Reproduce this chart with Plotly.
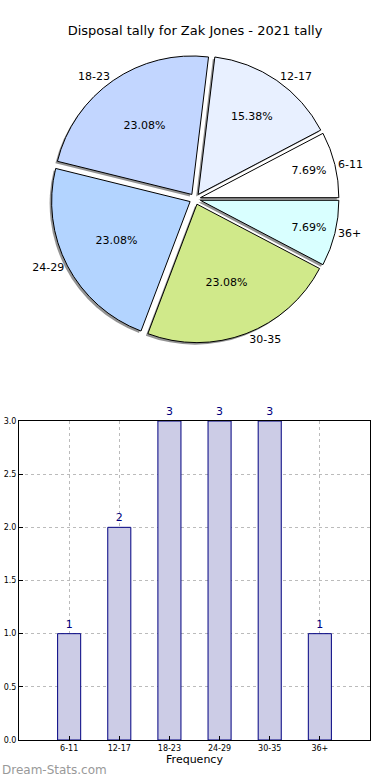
import plotly.graph_objects as go

categories = ["6-11", "12-17", "18-23", "24-29", "30-35", "36+"]
counts = [1, 2, 3, 3, 3, 1]
pie_colors = ["#FFFFFF", "#E8F0FF", "#C2D6FF", "#B3D4FF", "#D0E98A", "#D9FFFF"]
title_text = "Disposal tally for Zak Jones - 2021 tally"
y_ticks = [0.0, 0.5, 1.0, 1.5, 2.0, 2.5, 3.0]

W, H = 390, 780
pull = [0.04] * len(categories)
# first slice starts at 3 o'clock and runs counterclockwise
rot = 90 - 360 * counts[0] / sum(counts)

def dom(cx, cy, half):
    return dict(x=[(cx - half) / W, (cx + half) / W], y=[1 - (cy + half) / H, 1 - (cy - half) / H])

PCX, PCY, PH = 195, 199, 144

fig = go.Figure()

# shadow
fig.add_trace(go.Pie(
    labels=categories, values=counts, sort=False, direction="counterclockwise", rotation=rot,
    pull=pull, domain=dom(PCX - 2, PCY + 2, PH),
    marker=dict(colors=["#888888"] * 6, line=dict(color="#888888", width=0)),
    textinfo="none", hoverinfo="skip", showlegend=False, opacity=0.9,
))
# main pie
fig.add_trace(go.Pie(
    labels=categories, values=counts, sort=False, direction="counterclockwise", rotation=rot,
    pull=pull, domain=dom(PCX, PCY, PH),
    marker=dict(colors=pie_colors, line=dict(color="#000000", width=1)),
    texttemplate="%{percent:.2%}", textposition="inside", insidetextorientation="horizontal",
    textfont=dict(family="DejaVu Sans", size=11, color="#000000"),
    showlegend=False,
))
# outside labels
fig.add_trace(go.Pie(
    labels=categories, values=counts, sort=False, direction="counterclockwise", rotation=rot,
    pull=pull, domain=dom(PCX, PCY, PH),
    marker=dict(colors=["rgba(0,0,0,0)"] * 6, line=dict(width=0)),
    texttemplate="%{label}", textposition="outside",
    textfont=dict(family="DejaVu Sans", size=11, color="#000000"),
    showlegend=False, hoverinfo="skip",
))

fig.add_trace(go.Bar(
    x=categories, y=counts, width=0.46,
    marker=dict(color="#CCCCE6", line=dict(color="#000080", width=1)),
    text=[str(c) for c in counts], textposition="outside", cliponaxis=False,
    textfont=dict(family="DejaVu Sans", size=11, color="#000080"),
    xaxis="x", yaxis="y", showlegend=False,
))

fig.update_layout(
    width=W, height=H, margin=dict(l=0, r=0, t=0, b=0),
    paper_bgcolor="white", plot_bgcolor="white",
    font=dict(family="DejaVu Sans", color="#000000"),
    title=dict(text=title_text, x=0.5, xanchor="center", y=1 - 30 / H, yanchor="middle",
               font=dict(size=13, color="#000000")),
    xaxis=dict(domain=[19 / W, 370 / W], range=[-1, 6], type="category", automargin=False,
               showgrid=True, gridcolor="#BBBBBB", griddash="dot", gridwidth=1,
               showline=True, linecolor="#000000", mirror=True, linewidth=1,
               ticks="inside", ticklen=4, tickcolor="#000000",
               tickfont=dict(size=8), title=dict(text="Frequency", font=dict(size=11), standoff=2),
               zeroline=False, fixedrange=True),
    yaxis=dict(domain=[1 - 740 / H, 1 - 421 / H], range=[0, 3], automargin=False,
               tickvals=y_ticks, ticktext=[f"{v:.1f}" for v in y_ticks],
               showgrid=True, gridcolor="#BBBBBB", griddash="dot", gridwidth=1,
               showline=True, linecolor="#000000", mirror=True, linewidth=1,
               ticks="inside", ticklen=4, tickcolor="#000000",
               tickfont=dict(size=8), zeroline=False, fixedrange=True),
    annotations=[dict(text="Dream-Stats.com", x=0, xanchor="left", y=1 - 770 / H, yanchor="middle",
                      xref="paper", yref="paper", showarrow=False,
                      font=dict(size=12, color="#999999"))],
)

fig.write_html("out.html", config={"displayModeBar": False},
               post_script="document.body.style.margin='0px';")
